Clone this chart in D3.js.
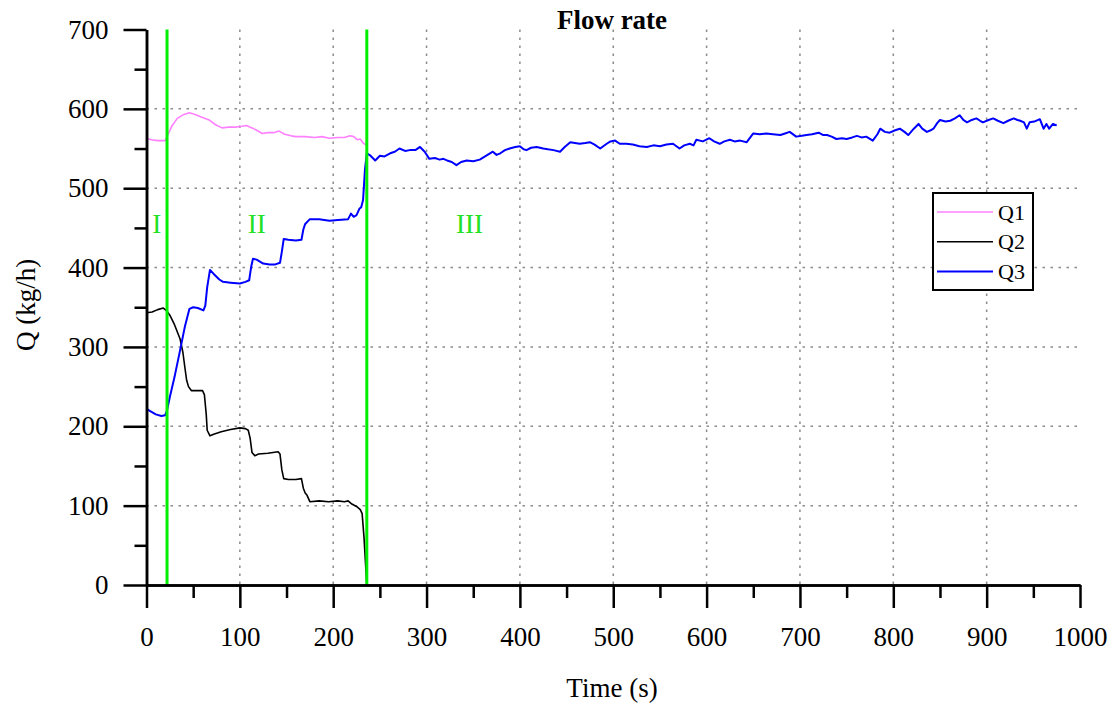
<!DOCTYPE html>
<html>
<head>
<meta charset="utf-8">
<script src="https://cdn.jsdelivr.net/npm/d3@7"></script>
<style>
  body { margin: 0; background: #fff; }
  svg text { font-family: "Liberation Serif", "Times New Roman", serif; }
</style>
</head>
<body>
<div id="chart"></div>
<script>
// [time (s), Q (kg/h)]
var q1Points = [[0,563],[5,561],[12,560],[20,560],[22,565],[27,578],[33,588],[40,593],[46,595],[52,593],[60,589],[67,586],[74,580],[81,576],[88,577],[95,577],[102,578],[107,579],[113,576],[118,573],[124,569],[130,570],[136,570],[142,572],[148,568],[155,566],[160,565],[170,565],[180,564],[188,565],[196,563],[205,564],[212,564],[218,566],[222,565],[226,561],[229,562],[232,557],[236,554]];

var q2Points = [[0,343],[6,344],[12,347],[18,349],[22,345],[25,340],[30,328],[36,310],[39,293],[41,275],[43,258],[45,250],[48,245],[55,245],[60,245],[62,240],[64,215],[65,195],[68,188],[72,190],[80,193],[90,196],[100,198],[106,197],[109,195],[111,185],[113,167],[116,163],[120,165],[130,166],[141,168],[143,165],[145,145],[147,134],[152,133],[160,133],[166,134],[168,122],[170,116],[172,113],[175,105],[185,106],[195,105],[205,106],[212,105],[216,106],[220,102],[225,99],[229,95],[231,90],[233,60],[235,20],[236,0]];

var q3Points = [[0,222],[4,219],[10,215],[16,213],[20,214],[22,220],[25,237],[30,262],[36,296],[41,325],[46,348],[50,350],[55,349],[61,346],[63,352],[65,375],[68,397],[72,392],[78,385],[82,382],[90,381],[100,380],[106,382],[110,384],[112,400],[114,411],[118,410],[125,405],[132,404],[138,404],[143,406],[145,420],[147,436],[152,435],[160,434],[166,435],[168,448],[170,455],[175,461],[185,461],[196,459],[205,460],[216,461],[219,468],[222,464],[225,466],[228,474],[230,476],[232,485],[234,523],[236,544],[240,541],[245,535],[250,541],[255,540],[261,544],[266,546],[271,550],[277,547],[282,548],[288,548],[293,552],[298,546],[303,537],[309,538],[314,536],[318,537],[322,535],[327,533],[332,529],[337,533],[343,535],[350,534],[357,536],[364,541],[371,546],[375,542],[379,544],[384,548],[389,550],[395,552],[400,553],[404,549],[407,548],[412,551],[418,552],[425,550],[430,549],[436,548],[443,546],[448,552],[454,558],[459,557],[464,556],[470,557],[475,558],[480,555],[486,550],[493,556],[497,559],[502,560],[507,556],[514,556],[521,555],[528,553],[536,552],[543,554],[550,553],[557,555],[564,556],[571,550],[576,554],[582,556],[586,554],[589,561],[596,559],[603,563],[608,559],[614,556],[619,559],[625,561],[630,559],[636,560],[643,558],[650,569],[657,568],[664,569],[671,568],[679,567],[684,569],[689,571],[696,565],[702,566],[707,567],[713,568],[720,570],[725,567],[729,567],[734,565],[739,562],[745,563],[750,562],[756,564],[761,566],[766,564],[771,565],[778,560],[783,568],[786,575],[791,571],[796,570],[802,573],[807,575],[812,571],[816,567],[822,575],[827,581],[831,575],[836,571],[840,573],[843,575],[847,582],[850,586],[856,584],[861,585],[866,588],[871,592],[875,586],[879,583],[884,586],[889,588],[893,585],[896,583],[902,586],[907,588],[912,585],[918,582],[923,585],[929,588],[933,586],[936,585],[940,583],[943,575],[946,583],[951,584],[957,587],[961,575],[964,581],[967,575],[971,581],[975,579]];

var seriesNames  = ["Q1", "Q2", "Q3"];
var seriesColors = ["#ff80ff", "#000000", "#0000ff"];

var xTicks      = [0, 100, 200, 300, 400, 500, 600, 700, 800, 900, 1000];
var xMinorTicks = [50, 150, 250, 350, 450, 550, 650, 750, 850, 950];
var yTicks      = [0, 100, 200, 300, 400, 500, 600, 700];
var yMinorTicks = [50, 150, 250, 350, 450, 550, 650];

// boundaries between stages and their labels
var stageBounds = [22, 236];
var stageLabels = [{name: "I", t: 11}, {name: "II", t: 118}, {name: "III", t: 346}];

var width = 1115, height = 711;
var plotLeft = 146.5, plotRight = 1080, plotTop = 29.5, plotBottom = 585;

var svg = d3.select("#chart").append("svg")
    .attr("width", width)
    .attr("height", height);

var x = d3.scaleLinear().domain([0, 1000]).range([plotLeft, plotRight]);
var y = d3.scaleLinear().domain([0, 700]).range([plotBottom, plotTop]);

// dotted grid
var grid = svg.append("g")
    .attr("stroke", "#8c8c8c")
    .attr("stroke-width", 1.5)
    .attr("stroke-dasharray", "2.5,5.5");
grid.selectAll(".vg")
  .data(xTicks.filter(function(d) { return d > 0 && d < 1000; }))
  .enter().append("line")
    .attr("x1", function(d) { return x(d); })
    .attr("x2", function(d) { return x(d); })
    .attr("y1", plotTop)
    .attr("y2", plotBottom);
grid.selectAll(".hg")
  .data(yTicks.filter(function(d) { return d > 0 && d < 700; }))
  .enter().append("line")
    .attr("x1", plotLeft)
    .attr("x2", plotRight)
    .attr("y1", function(d) { return y(d); })
    .attr("y2", function(d) { return y(d); });

// the three flow lines
var line = d3.line()
    .x(function(d) { return x(d[0]); })
    .y(function(d) { return y(d[1]); });

var allSeries = [q1Points, q2Points, q3Points];
allSeries.forEach(function(pts, i) {
  svg.append("path")
    .datum(pts)
    .attr("fill", "none")
    .attr("stroke", seriesColors[i])
    .attr("stroke-width", i == 2 ? 2 : 1.6)
    .attr("stroke-linejoin", "round")
    .attr("d", line);
});

// stage boundaries
svg.selectAll(".stage")
  .data(stageBounds)
  .enter().append("line")
    .attr("x1", function(d) { return x(d); })
    .attr("x2", function(d) { return x(d); })
    .attr("y1", plotTop)
    .attr("y2", plotBottom)
    .attr("stroke", "#00ee00")
    .attr("stroke-width", 3);

svg.selectAll(".stageLabel")
  .data(stageLabels)
  .enter().append("text")
    .attr("x", function(d) { return x(d.t); })
    .attr("y", 233)
    .attr("text-anchor", "middle")
    .attr("font-size", 27)
    .attr("fill", "#22e022")
    .text(function(d) { return d.name; });

// axes
function styleAxis(g) {
  g.attr("font-size", 27).attr("font-family", "Liberation Serif, Times New Roman, serif");
  g.select(".domain").attr("stroke-width", 2.5);
  g.selectAll(".tick line").attr("stroke-width", 2.5);
  g.selectAll("text").attr("fill", "#000");
}

svg.append("g")
  .attr("transform", "translate(0," + plotBottom + ")")
  .call(d3.axisBottom(x).tickValues(xMinorTicks).tickSize(13).tickSizeOuter(0).tickFormat(""))
  .call(styleAxis);
svg.append("g")
  .attr("transform", "translate(0," + plotBottom + ")")
  .call(d3.axisBottom(x).tickValues(xTicks).tickSize(23).tickSizeOuter(0).tickPadding(19).tickFormat(d3.format("d")))
  .call(styleAxis);

svg.append("g")
  .attr("transform", "translate(" + plotLeft + ",0)")
  .call(d3.axisLeft(y).tickValues(yMinorTicks).tickSize(12).tickSizeOuter(0).tickFormat(""))
  .call(styleAxis);
svg.append("g")
  .attr("transform", "translate(" + plotLeft + ",0)")
  .call(d3.axisLeft(y).tickValues(yTicks).tickSize(23).tickSizeOuter(0).tickPadding(15).tickFormat(d3.format("d")))
  .call(styleAxis);

// titles
svg.append("text")
  .attr("x", 612)
  .attr("y", 29)
  .attr("text-anchor", "middle")
  .attr("font-size", 27)
  .attr("font-weight", "bold")
  .text("Flow rate");

svg.append("text")
  .attr("x", 612)
  .attr("y", 697)
  .attr("text-anchor", "middle")
  .attr("font-size", 27)
  .text("Time (s)");

svg.append("text")
  .attr("transform", "translate(35,305) rotate(-90)")
  .attr("text-anchor", "middle")
  .attr("font-size", 27)
  .text("Q (kg/h)");

// legend
var legend = svg.append("g");
legend.append("rect")
  .attr("x", 933)
  .attr("y", 193)
  .attr("width", 100)
  .attr("height", 97)
  .attr("fill", "#fff")
  .attr("stroke", "#000")
  .attr("stroke-width", 2);

var legendItems = legend.selectAll(".item")
  .data(seriesNames)
  .enter().append("g")
    .attr("transform", function(d, i) { return "translate(0," + (212 + i * 29.7) + ")"; });
legendItems.append("line")
  .attr("x1", 937)
  .attr("x2", 993)
  .attr("stroke", function(d, i) { return seriesColors[i]; })
  .attr("stroke-width", function(d, i) { return i == 2 ? 2 : 1.6; });
legendItems.append("text")
  .attr("x", 998)
  .attr("y", 7.5)
  .attr("font-size", 22)
  .text(function(d) { return d; });
</script>
</body>
</html>
